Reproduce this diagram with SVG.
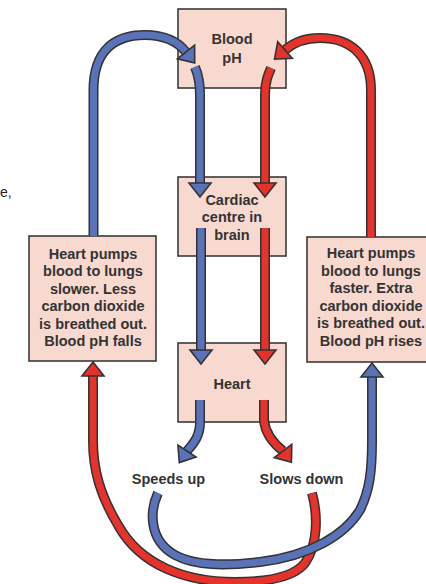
<svg xmlns="http://www.w3.org/2000/svg" width="426" height="584" viewBox="0 0 426 584">
<style>
.box{fill:#f8d9d0;stroke:#3a3a3a;stroke-width:1.6}
.t{font-family:"Liberation Sans",Arial,sans-serif;font-weight:bold;font-size:14.5px;fill:#333;text-anchor:middle}
.lbl{font-family:"Liberation Sans",Arial,sans-serif;font-weight:bold;font-size:14.5px;fill:#333;text-anchor:middle}
.o{fill:none;stroke:#333;stroke-width:10;stroke-linecap:butt}
.b{fill:none;stroke:#5a73b8;stroke-width:7;stroke-linecap:butt}
.r{fill:none;stroke:#e5322b;stroke-width:7;stroke-linecap:butt}
.hb{fill:#5a73b8;stroke:#333;stroke-width:1.6;stroke-linejoin:miter}
.hr{fill:#e5322b;stroke:#333;stroke-width:1.6;stroke-linejoin:miter}
</style>
<rect width="426" height="584" fill="#ffffff"/>
<text x="0" y="197" style="font-family:'Liberation Sans',Arial,sans-serif;font-size:14px;fill:#222">e,</text>

<g id="blood-ph"><rect class="box" x="178" y="9" width="108" height="79"/>
<text class="t" x="232" y="44">Blood</text><text class="t" x="232" y="63">pH</text></g>
<g id="cardiac"><rect class="box" x="178" y="177" width="108" height="79"/>
<text class="t" x="232" y="205">Cardiac</text><text class="t" x="232" y="222">centre in</text><text class="t" x="232" y="240">brain</text></g>
<g id="heart"><rect class="box" x="178" y="343" width="108" height="79"/>
<text class="t" x="232" y="389">Heart</text></g>
<g id="slower"><rect class="box" x="29" y="236" width="127" height="125"/>
<text class="t" x="93" y="258.5">Heart pumps</text><text class="t" x="93" y="276">blood to lungs</text><text class="t" x="93" y="293.5">slower. Less</text><text class="t" x="93" y="311">carbon dioxide</text><text class="t" x="93" y="328.5">is breathed out.</text><text class="t" x="93" y="346">Blood pH falls</text></g>
<g id="faster"><rect class="box" x="307" y="237" width="127" height="125"/>
<text class="t" x="371" y="258">Heart pumps</text><text class="t" x="371" y="275.5">blood to lungs</text><text class="t" x="371" y="293">faster. Extra</text><text class="t" x="371" y="310.5">carbon dioxide</text><text class="t" x="371" y="328">is breathed out.</text><text class="t" x="371" y="345.5">Blood pH rises</text></g>
<g id="speeds-up"><text class="lbl" x="168.5" y="484">Speeds up</text></g>
<g id="slows-down"><text class="lbl" x="301.5" y="484">Slows down</text></g>

<g id="connectors">
<path class="o" d="M312,493 C318,515 318,545 305,563 C295,576 270,582 235,582 C185,582 140,565 118,525 C100,495 93,470 93,440 L93,376"/>
<path class="r" d="M312,493 C318,515 318,545 305,563 C295,576 270,582 235,582 C185,582 140,565 118,525 C100,495 93,470 93,440 L93,376"/>
<polygon class="hr" points="93,362 104,376 82,376"/>
<path class="o" d="M158,493 C150,510 148,540 175,555 C195,566 225,566 260,562 C310,556 345,535 360,510 C370,490 372,470 372,440 L372,377"/>
<path class="b" d="M158,493 C150,510 148,540 175,555 C195,566 225,566 260,562 C310,556 345,535 360,510 C370,490 372,470 372,440 L372,377"/>
<polygon class="hb" points="372,363 383,377 361,377"/>
<path class="o" d="M93.5,236 L93.5,90 C93.5,50 115,35 145,35 C165,35 178,42 186,52"/>
<path class="b" d="M93.5,236 L93.5,90 C93.5,50 115,35 145,35 C165,35 178,42 186,52"/>
<polygon class="hb" points="194.7,62.9 177.4,58.8 194.6,45.2"/>
<path class="o" d="M371,237 L371,90 C371,55 350,38 320,38 C305,38 293,43 285,50"/>
<path class="r" d="M371,237 L371,90 C371,55 350,38 320,38 C305,38 293,43 285,50"/>
<polygon class="hr" points="274.5,59.2 277.7,41.8 292.3,58.3"/>
<path class="o" d="M195,67 C198,74 200,82 200,95 L200,183"/>
<path class="b" d="M195,67 C198,74 200,82 200,95 L200,183"/>
<polygon class="hb" points="200,197 189,183 211,183"/>
<path class="o" d="M271,68 C268,75 265,82 265,95 L265,183"/>
<path class="r" d="M271,68 C268,75 265,82 265,95 L265,183"/>
<polygon class="hr" points="265,197 254,183 276,183"/>
<path class="o" d="M201,228 L201,350"/>
<path class="b" d="M201,228 L201,350"/>
<polygon class="hb" points="201,364 190,350 212,350"/>
<path class="o" d="M265,228 L265,350"/>
<path class="r" d="M265,228 L265,350"/>
<polygon class="hr" points="265,364 254,350 276,350"/>
<path class="o" d="M200,400 L200,422 C200,435 195,442 187,451"/>
<path class="b" d="M200,400 L200,422 C200,435 195,442 187,451"/>
<polygon class="hb" points="179.3,462.6 177.9,445 196.1,457"/>
<path class="o" d="M264,400 L264,420 C265,432 273,443 283,451"/>
<path class="r" d="M264,400 L264,420 C265,432 273,443 283,451"/>
<polygon class="hr" points="291.4,462.2 274.2,457.6 291.8,444.4"/>
</g>
</svg>
